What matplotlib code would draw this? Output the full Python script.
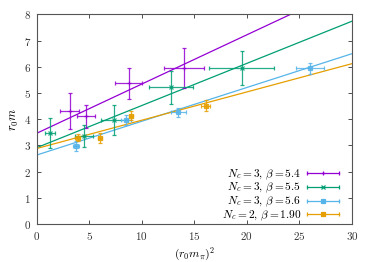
import matplotlib
matplotlib.use("Agg")
import matplotlib.pyplot as plt
from matplotlib.ticker import FuncFormatter, MultipleLocator
from matplotlib.legend_handler import HandlerBase
from matplotlib.lines import Line2D
import numpy as np

plt.rcParams['mathtext.fontset'] = 'cm'
plt.rcParams['font.family'] = ['DejaVu Serif']

labels = [r'$N_c=3,\,\beta=5.4$', r'$N_c=3,\,\beta=5.5$',
          r'$N_c=3,\,\beta=5.6$', r'$N_c=2,\,\beta=1.90$']
colors = ['#9400d3', '#009e73', '#56b4e9', '#e69f00']
markers = ['+', 'x', 's', 's']

x54 = [3.15, 4.7, 8.76, 14.05]
y54 = [4.31, 4.11, 5.37, 5.94]
xe54 = [0.9, 0.85, 1.3, 1.9]
ye54 = [0.7, 0.45, 0.58, 0.76]

x55 = [1.28, 4.55, 7.4, 12.8, 19.5]
y55 = [3.46, 3.37, 3.97, 5.22, 5.97]
xe55 = [0.47, 0.85, 1.3, 2.1, 3.1]
ye55 = [0.57, 0.42, 0.58, 0.63, 0.65]

x56 = [3.75, 8.5, 13.5, 26.0]
y56 = [2.98, 3.97, 4.26, 5.94]
xe56 = [0.3, 0.5, 0.68, 1.35]
ye56 = [0.2, 0.19, 0.18, 0.22]

x2 = [3.9, 6.02, 8.95, 16.08]
y2 = [3.29, 3.29, 4.13, 4.52]
xe2 = [0.25, 0.2, 0.2, 0.4]
ye2 = [0.14, 0.2, 0.17, 0.2]

intercepts = [3.46, 2.91, 2.63, 2.88]
slopes = [0.188, 0.161, 0.129, 0.108]

series = [(x54, y54, xe54, ye54), (x55, y55, xe55, ye55),
          (x56, y56, xe56, ye56), (x2, y2, xe2, ye2)]


class HErrHandler(HandlerBase):
    def create_artists(self, legend, orig, xdescent, ydescent, width, height, fontsize, trans):
        c = orig.get_color()
        m = orig.get_marker()
        y = height / 2 - ydescent
        x0, x1 = -xdescent, width - xdescent
        line = Line2D([x0, x1], [y, y], color=c, lw=0.9, transform=trans)
        caps = Line2D([x0, x1], [y, y], color=c, ls='none', marker='|', ms=3, mew=0.9,
                      transform=trans)
        mk = Line2D([(x0 + x1) / 2], [y], color=c, ls='none', marker=m,
                    ms=orig.get_markersize(), mew=0.9, transform=trans)
        return [line, caps, mk]


fig = plt.figure(figsize=(3.74, 2.62), dpi=100)
ax = fig.add_axes([0.0976, 0.145, 0.8434, 0.80])

xx = np.array([0, 30])
handles = []
for (xs, ys, xe, ye), a, b, c, m, lab in zip(series, intercepts, slopes, colors, markers, labels):
    ax.plot(xx, a + b * xx, color=c, lw=0.9, zorder=2)
    ms = 3.5 if m in '+x' else 2.5
    ax.errorbar(xs, ys, xerr=xe, yerr=ye, fmt=m, color=c, ms=ms, mew=0.9,
                elinewidth=0.9, capsize=1.5, capthick=0.9, zorder=3, alpha=0.85)
    handles.append(Line2D([], [], color=c, marker=m, ms=ms, label=lab))

ax.set_xlim(0, 30)
ax.set_ylim(0, 8)
ax.xaxis.set_major_locator(MultipleLocator(5))
ax.yaxis.set_major_locator(MultipleLocator(1))
fmt = FuncFormatter(lambda v, p: f'${v:g}$')
ax.xaxis.set_major_formatter(fmt)
ax.yaxis.set_major_formatter(fmt)
ax.tick_params(direction='in', top=True, right=True, length=3, width=0.6,
               labelsize=8, colors='#333333', pad=4)
for s in ax.spines.values():
    s.set_color('#555555')
    s.set_linewidth(0.8)

ax.set_xlabel(r'$(r_0 m_\pi)^2$', fontsize=8.5, labelpad=3)
ax.set_ylabel(r'$r_0 m$', fontsize=9, labelpad=2)

leg = ax.legend(handles=handles, handler_map={Line2D: HErrHandler()},
                loc='lower right', markerfirst=False, frameon=False,
                fontsize=8.2, handlelength=2.8, handletextpad=0.55, labelspacing=-0.05,
                borderaxespad=0, borderpad=0, bbox_to_anchor=(0.96, 0.005))

fig.savefig('out.png', dpi=100)
